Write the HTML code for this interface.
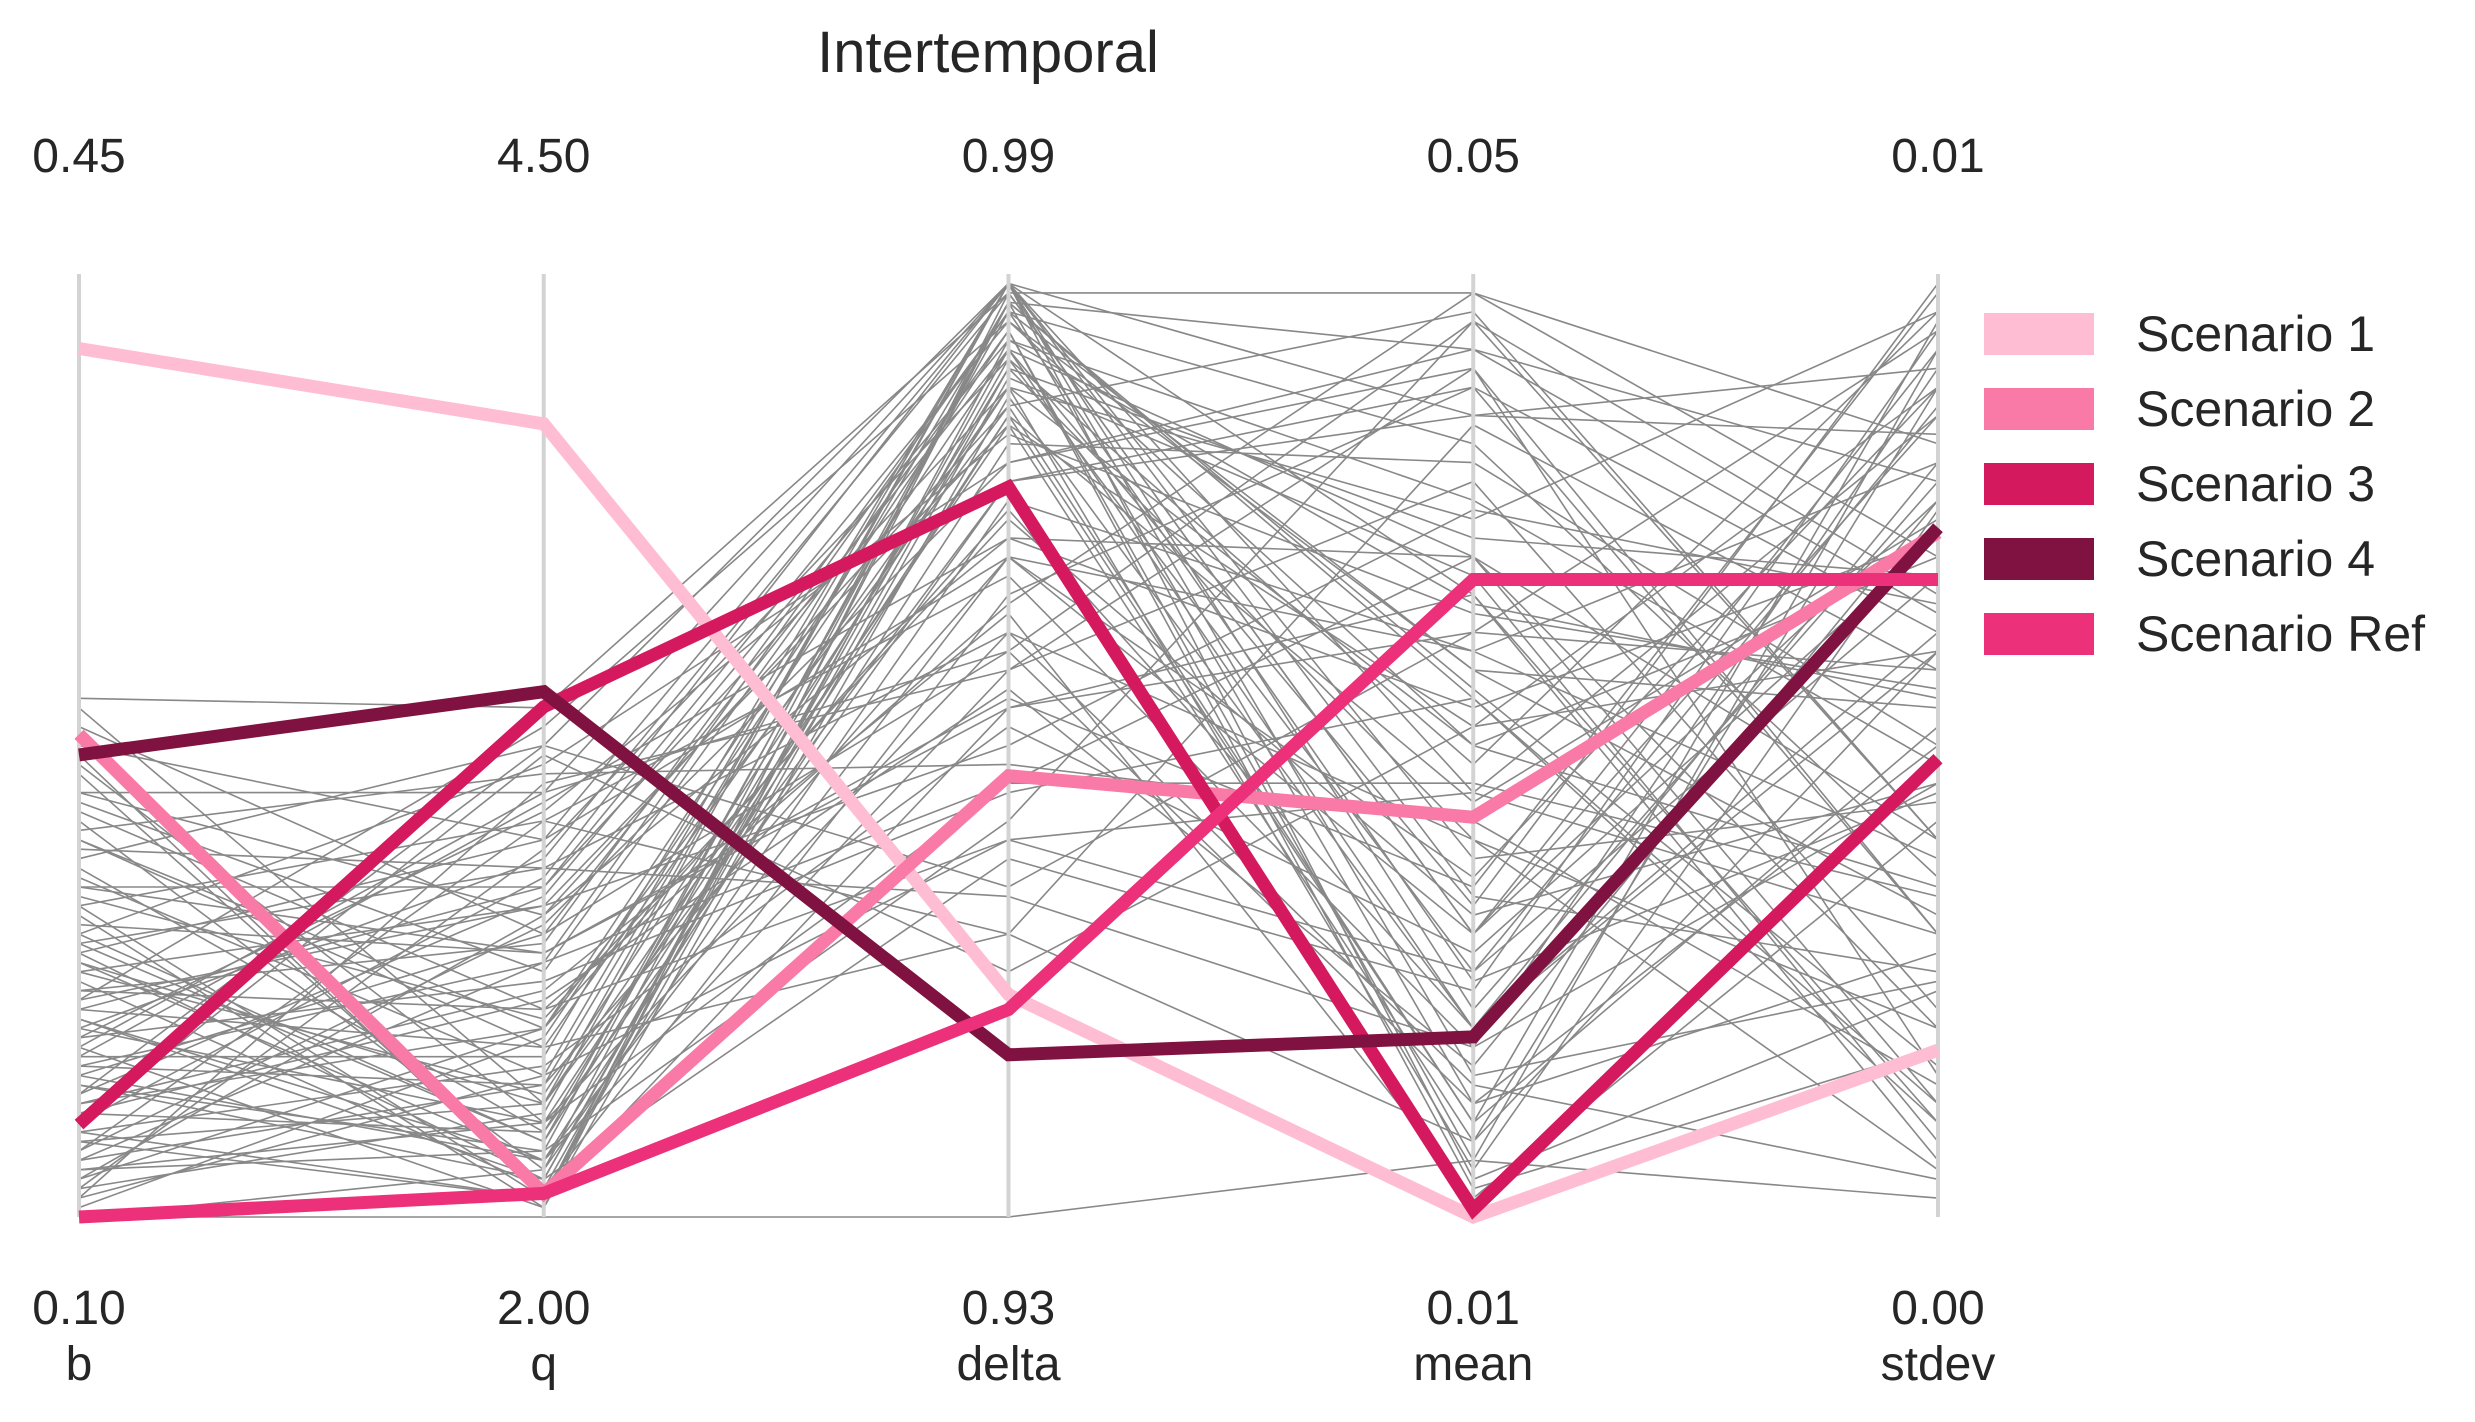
<!DOCTYPE html>
<html><head><meta charset="utf-8"><style>
body{margin:0;background:#fff;}
svg text{font-family:"Liberation Sans",Arial,sans-serif;fill:#262626;}
</style></head><body>
<svg id="chart" width="2475" height="1417" viewBox="0 0 2475 1417" xmlns="http://www.w3.org/2000/svg">
<text x="988" y="72" font-size="58" text-anchor="middle">Intertemporal</text>
<g id="gray"></g>
<g id="axes"></g>
<g id="scen"></g>
<g id="legend"></g>
</svg>
<script>
const axisNames=["b","q","delta","mean","stdev"];
const topLabels=["0.45","4.50","0.99","0.05","0.01"];
const bottomLabels=["0.10","2.00","0.93","0.01","0.00"];
const scenarioNames=["Scenario 1","Scenario 2","Scenario 3","Scenario 4","Scenario Ref"];
const scenarioColors=["#FFBDD4","#F97AA6","#D4195F","#7F1240","#EC307A"];
const scenario1=[0.921,0.841,0.236,0.0,0.177];
const scenario2=[0.512,0.025,0.468,0.424,0.726];
const scenario3=[0.098,0.541,0.774,0.008,0.486];
const scenario4=[0.490,0.557,0.172,0.191,0.731];
const scenarioRef=[0.0,0.025,0.220,0.676,0.676];
const samples=[
[0.55,0.54,0.98,0.30,0.85],[0.52,0.30,0.92,0.70,0.20],[0.48,0.10,0.85,0.10,0.95],[0.45,0.45,0.60,0.95,0.40],
[0.42,0.05,0.97,0.55,0.10],[0.40,0.20,0.75,0.20,0.60],[0.38,0.50,0.99,0.85,0.90],[0.36,0.15,0.40,0.45,0.30],
[0.35,0.35,0.88,0.05,0.75],[0.33,0.02,0.93,0.65,0.55],[0.31,0.28,0.55,0.35,0.98],[0.30,0.48,0.80,0.90,0.15],
[0.29,0.08,0.96,0.25,0.45],[0.28,0.40,0.70,0.60,0.80],[0.27,0.12,0.99,0.15,0.25],[0.26,0.33,0.50,0.75,0.65],
[0.25,0.03,0.90,0.40,0.05],[0.24,0.22,0.65,0.98,0.70],[0.23,0.52,0.95,0.50,0.35],[0.22,0.18,0.30,0.08,0.88],
[0.21,0.06,0.82,0.80,0.50],[0.20,0.38,0.98,0.30,0.92],[0.19,0.25,0.45,0.55,0.12],[0.18,0.01,0.87,0.20,0.62],
[0.17,0.44,0.72,0.70,0.40],[0.16,0.14,0.97,0.92,0.78],[0.15,0.30,0.60,0.12,0.28],[0.14,0.04,0.91,0.48,0.96],
[0.13,0.50,0.35,0.62,0.58],[0.12,0.20,0.94,0.03,0.18],[0.11,0.09,0.78,0.85,0.83],[0.10,0.36,0.99,0.38,0.44],
[0.09,0.16,0.52,0.28,0.72],[0.08,0.02,0.89,0.68,0.08],[0.07,0.42,0.68,0.18,0.90],[0.06,0.27,0.96,0.58,0.32],
[0.05,0.07,0.42,0.95,0.66],[0.04,0.32,0.86,0.10,0.52],[0.03,0.11,0.99,0.45,0.85],[0.02,0.46,0.58,0.78,0.22],
[0.01,0.19,0.92,0.33,0.99],[0.00,0.05,0.76,0.60,0.38],[0.54,0.12,0.84,0.52,0.60],[0.50,0.40,0.99,0.22,0.78],
[0.47,0.03,0.66,0.88,0.30],[0.44,0.26,0.94,0.06,0.92],[0.41,0.47,0.48,0.42,0.14],[0.37,0.09,0.90,0.72,0.68],
[0.34,0.21,0.74,0.32,0.46],[0.32,0.01,0.98,0.98,0.82],[0.29,0.37,0.62,0.14,0.04],[0.26,0.13,0.88,0.50,0.70],
[0.24,0.29,0.96,0.82,0.36],[0.21,0.04,0.38,0.24,0.94],[0.19,0.43,0.83,0.64,0.56],[0.17,0.17,0.99,0.04,0.24],
[0.15,0.06,0.70,0.36,0.88],[0.13,0.34,0.93,0.76,0.48],[0.11,0.23,0.56,0.16,0.76],[0.09,0.02,0.97,0.56,0.16],
[0.07,0.31,0.80,0.92,0.64],[0.05,0.10,0.46,0.46,0.34],[0.03,0.39,0.91,0.26,0.86],[0.02,0.15,0.99,0.66,0.06],
[0.00,0.00,0.00,0.06,0.02],[0.30,0.08,0.85,0.44,0.74],[0.22,0.35,0.95,0.58,0.54],[0.12,0.24,0.64,0.02,0.42],
[0.40,0.18,0.88,0.74,0.96],[0.18,0.45,0.99,0.34,0.26],[0.08,0.12,0.78,0.88,0.62],[0.28,0.04,0.92,0.20,0.80],
[0.35,0.28,0.54,0.66,0.10],[0.14,0.07,0.97,0.12,0.50],[0.45,0.32,0.72,0.54,0.72],[0.04,0.20,0.86,0.96,0.40],
[0.33,0.42,0.30,0.84,0.58],[0.20,0.10,0.62,0.40,0.20],[0.43,0.22,0.40,0.26,0.68],[0.10,0.49,0.26,0.52,0.88],
[0.27,0.06,0.58,0.90,0.30],[0.39,0.37,0.34,0.18,0.46],[0.16,0.27,0.46,0.70,0.12],[0.06,0.14,0.70,0.30,0.76],
[0.49,0.02,0.54,0.62,0.94],[0.23,0.33,0.84,0.08,0.60]
];
const NS="http://www.w3.org/2000/svg";
const axX=i=>79+i*464.75;
const yTop=274,yBot=1217;
const yS=v=>yBot-v*(yBot-yTop);
function mk(tag,attrs,parent){const e=document.createElementNS(NS,tag);for(const k in attrs)e.setAttribute(k,attrs[k]);parent.appendChild(e);return e;}
const pts=arr=>arr.map((v,i)=>axX(i).toFixed(1)+","+yS(v).toFixed(1)).join(" ");
const gG=document.getElementById("gray");
samples.forEach(r=>{const l=mk("polyline",{points:pts(r),fill:"none",stroke:"#888","stroke-width":1.6},gG);

});
const gA=document.getElementById("axes");
axisNames.forEach((n,i)=>{const x=axX(i);
const a=mk("line",{x1:x,x2:x,y1:yTop,y2:yBot,stroke:"#d3d3d3","stroke-width":4},gA);


const t=mk("text",{x:x,y:172,"font-size":48,"text-anchor":"middle"},gA);t.textContent=topLabels[i];


const b=mk("text",{x:x,y:1324,"font-size":48,"text-anchor":"middle"},gA);b.textContent=bottomLabels[i];


const nm=mk("text",{x:x,y:1380,"font-size":48,"text-anchor":"middle"},gA);nm.textContent=n;

});
const gS=document.getElementById("scen");
[scenario1,scenario2,scenario3,scenario4,scenarioRef].forEach((s,i)=>{
const l=mk("polyline",{points:pts(s),fill:"none",stroke:scenarioColors[i],"stroke-width":13,"stroke-linejoin":"miter"},gS);

});
const gL=document.getElementById("legend");
scenarioNames.forEach((n,i)=>{const cy=334+i*75;
const r=mk("rect",{x:1984,y:cy-21,width:110,height:42,fill:scenarioColors[i]},gL);


const t=mk("text",{x:2136,y:cy+17,"font-size":50},gL);t.textContent=n;

});
</script>
</body></html>
